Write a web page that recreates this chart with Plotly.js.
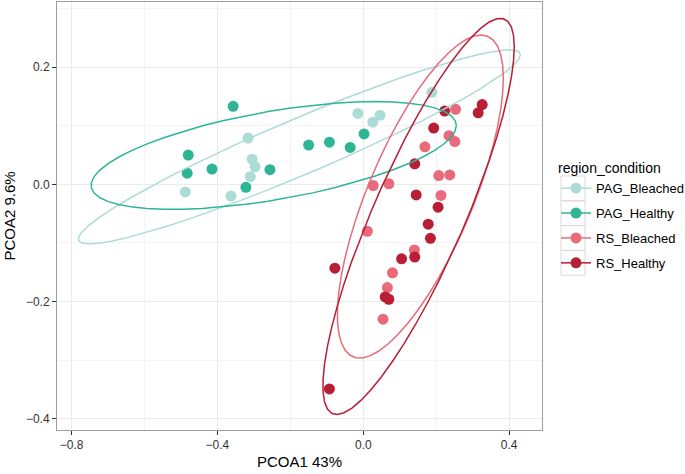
<!DOCTYPE html>
<html>
<head>
<meta charset="utf-8">
<script src="https://cdn.plot.ly/plotly-3.0.1.min.js"></script>
<style>
	html, body { margin: 0; padding: 0; background: #ffffff; }
	#pcoa { width: 685px; height: 474px; }
</style>
</head>
<body>
<div id="pcoa"></div>
<script>
// Groups, in legend order.
var groups = [ "PAG_Bleached", "PAG_Healthy", "RS_Bleached", "RS_Healthy" ];
var groupColors = [ "#abdcd5", "#2fb594", "#e86a7b", "#b81e34" ];

// PCoA scores.
var pagBleachedX = [ -0.316, -0.488, -0.305, -0.297, -0.310, -0.363, -0.015, 0.026, 0.046, 0.188 ];
var pagBleachedY = [ 0.079, -0.013, 0.043, 0.030, 0.013, -0.020, 0.121, 0.106, 0.118, 0.157 ];

var pagHealthyX = [ -0.357, -0.480, -0.483, -0.415, -0.256, -0.322, -0.150, -0.093, -0.036, 0.002 ];
var pagHealthyY = [ 0.133, 0.050, 0.019, 0.026, 0.025, -0.005, 0.067, 0.072, 0.063, 0.086 ];

var rsBleachedX = [ 0.253, 0.169, 0.235, 0.251, 0.207, 0.237, 0.027, 0.070, 0.213, 0.011, 0.140, 0.080, 0.066, 0.054 ];
var rsBleachedY = [ 0.128, 0.064, 0.083, 0.073, 0.015, 0.016, -0.002, 0.001, -0.019, -0.080, -0.112, -0.151, -0.176, -0.230 ];

var rsHealthyX = [ 0.223, 0.326, 0.315, 0.193, 0.141, 0.145, 0.205, 0.178, 0.184, 0.105, 0.141, -0.078, 0.060, 0.070, -0.093 ];
var rsHealthyY = [ 0.125, 0.136, 0.122, 0.096, 0.035, -0.018, -0.039, -0.068, -0.092, -0.127, -0.124, -0.143, -0.192, -0.196, -0.349 ];

var groupX = [ pagBleachedX, pagHealthyX, rsBleachedX, rsHealthyX ];
var groupY = [ pagBleachedY, pagHealthyY, rsBleachedY, rsHealthyY ];

var xTicks = [ -0.8, -0.4, 0.0, 0.4 ];
var yTicks = [ -0.4, -0.2, 0.0, 0.2 ];


// Robust t covariance (same idea as MASS::cov.trob, nu = 5), 2D only.
function covTrob( xs, ys )
{
	var n = xs.length, nu = 5, p = 2;
	var w = [], i, it;
	var lx = 0, ly = 0;
	var dx = [], dy = [];

	for( i = 0; i < n; i++ ) { w.push( 1 ); lx += xs[ i ]; ly += ys[ i ]; }
	lx /= n;
	ly /= n;

	for( it = 0; it < 25; it++ )
	{
		var w0 = w.slice();
		var sw = 0, a = 0, b = 0, c = 0;

		for( i = 0; i < n; i++ )
		{
			dx[ i ] = xs[ i ] - lx;
			dy[ i ] = ys[ i ] - ly;
			sw += w[ i ];
			a += w[ i ] * dx[ i ] * dx[ i ];
			b += w[ i ] * dx[ i ] * dy[ i ];
			c += w[ i ] * dy[ i ] * dy[ i ];
		}
		a /= sw; b /= sw; c /= sw;
		var det = a * c - b * b;

		var sx = 0, sy = 0, swn = 0;
		for( i = 0; i < n; i++ )
		{
			var q = ( c * dx[ i ] * dx[ i ] - 2 * b * dx[ i ] * dy[ i ] + a * dy[ i ] * dy[ i ] ) / det;
			w[ i ] = ( nu + p ) / ( nu + q );
			sx += w[ i ] * xs[ i ];
			sy += w[ i ] * ys[ i ];
			swn += w[ i ];
		}
		lx = sx / swn;
		ly = sy / swn;

		var done = true;
		for( i = 0; i < n; i++ )
			if( Math.abs( w[ i ] - w0[ i ] ) >= 0.01 ) done = false;
		if( done ) break;
	}

	var s11 = 0, s12 = 0, s22 = 0;
	for( i = 0; i < n; i++ )
	{
		s11 += w[ i ] * dx[ i ] * dx[ i ];
		s12 += w[ i ] * dx[ i ] * dy[ i ];
		s22 += w[ i ] * dy[ i ] * dy[ i ];
	}

	return { cx: lx, cy: ly, s11: s11 / n, s12: s12 / n, s22: s22 / n };
}

// 95% ellipse like ggplot2::stat_ellipse (type "t").
function ellipsePath( xs, ys, level )
{
	var est = covTrob( xs, ys );
	var d = xs.length - 1;
	var fq = ( d / 2 ) * ( Math.pow( 1 - level, -2 / d ) - 1 );		// qf( level, 2, d )
	var radius = Math.sqrt( 2 * fq );

	// Cholesky (upper) of the covariance.
	var ra = Math.sqrt( est.s11 );
	var rb = est.s12 / ra;
	var rc = Math.sqrt( est.s22 - rb * rb );

	var ex = [], ey = [], segments = 51;
	for( var k = 0; k <= segments; k++ )
	{
		var t = 2 * Math.PI * k / segments;
		ex.push( est.cx + radius * ( Math.cos( t ) * ra ) );
		ey.push( est.cy + radius * ( Math.cos( t ) * rb + Math.sin( t ) * rc ) );
	}
	return { x: ex, y: ey };
}


var traces = [];

for( let g = 0; g < groups.length; g++ )
{
	traces.push( {
		x: groupX[ g ], y: groupY[ g ],
		type: "scatter", mode: "markers",
		marker: { color: groupColors[ g ], size: 11 },
		showlegend: false, hoverinfo: "skip"
	} );
}

for( let g = 0; g < groups.length; g++ )
{
	let path = ellipsePath( groupX[ g ], groupY[ g ], 0.95 );
	traces.push( {
		x: path.x, y: path.y,
		type: "scatter", mode: "lines",
		line: { color: groupColors[ g ], width: 1.5 },
		showlegend: false, hoverinfo: "skip"
	} );
}

// Legend keys only.
for( let g = 0; g < groups.length; g++ )
{
	traces.push( {
		x: [ null ], y: [ null ],
		type: "scatter", mode: "lines+markers",
		name: groups[ g ],
		legendgroup: groups[ g ],
		line: { color: groupColors[ g ], width: 1.5 },
		marker: { color: groupColors[ g ], size: 11 }
	} );
}

// Grey boxes round the legend keys.
var keyShapes = [];
var panelLeft = 57, panelWidth = 485, panelBottom = 430, panelHeight = 428;
for( let g = 0; g < groups.length; g++ )
{
	let top = 176 + g * 24.8;
	keyShapes.push( {
		type: "rect", xref: "paper", yref: "paper",
		x0: ( 561 - panelLeft ) / panelWidth, x1: ( 585 - panelLeft ) / panelWidth,
		y0: ( panelBottom - top ) / panelHeight, y1: ( panelBottom - top - 24.8 ) / panelHeight,
		line: { color: "#d9d9d9", width: 1 }, fillcolor: "rgba(0,0,0,0)", layer: "below"
	} );
}

var layout = {
	width: 685,
	height: 474,
	margin: { l: 57, r: 143, t: 2, b: 44, autoexpand: false },
	paper_bgcolor: "#ffffff",
	plot_bgcolor: "#ffffff",
	font: { family: "Liberation Sans, Arial, sans-serif", color: "#000000" },
	xaxis: {
		title: { text: "PCOA1 43%", font: { size: 15, color: "#000000" }, standoff: 5 },
		range: [ -0.84, 0.49 ],
		tickmode: "array",
		tickvals: xTicks,
		tickformat: ".1f",
		ticks: "outside", ticklen: 4, tickcolor: "#333333",
		tickfont: { size: 12, color: "#333333" },
		showgrid: true, gridcolor: "#ebebeb", gridwidth: 1,
		minor: { dtick: 0.2, tick0: 0, showgrid: true, gridcolor: "#f4f4f4", gridwidth: 1 },
		zeroline: false,
		showline: true, mirror: true, linecolor: "#9e9e9e", linewidth: 1
	},
	yaxis: {
		title: { text: "PCOA2 9.6%", font: { size: 15, color: "#000000" }, standoff: 6 },
		range: [ -0.419, 0.311 ],
		tickmode: "array",
		tickvals: yTicks,
		tickformat: ".1f",
		ticks: "outside", ticklen: 4, tickcolor: "#333333",
		tickfont: { size: 12, color: "#333333" },
		showgrid: true, gridcolor: "#ebebeb", gridwidth: 1,
		minor: { dtick: 0.1, tick0: 0, showgrid: true, gridcolor: "#f4f4f4", gridwidth: 1 },
		zeroline: false,
		showline: true, mirror: true, linecolor: "#9e9e9e", linewidth: 1
	},
	legend: {
		title: { text: "region_condition", font: { size: 14 } },
		font: { size: 13 },
		x: ( 556 - panelLeft ) / panelWidth,
		xanchor: "left",
		y: ( panelBottom - 155 ) / panelHeight,
		yanchor: "top",
		tracegroupgap: 5,
		itemwidth: 30,
		bgcolor: "rgba(0,0,0,0)"
	},
	shapes: keyShapes
};

Plotly.newPlot( "pcoa", traces, layout, { staticPlot: true } );
</script>
</body>
</html>
